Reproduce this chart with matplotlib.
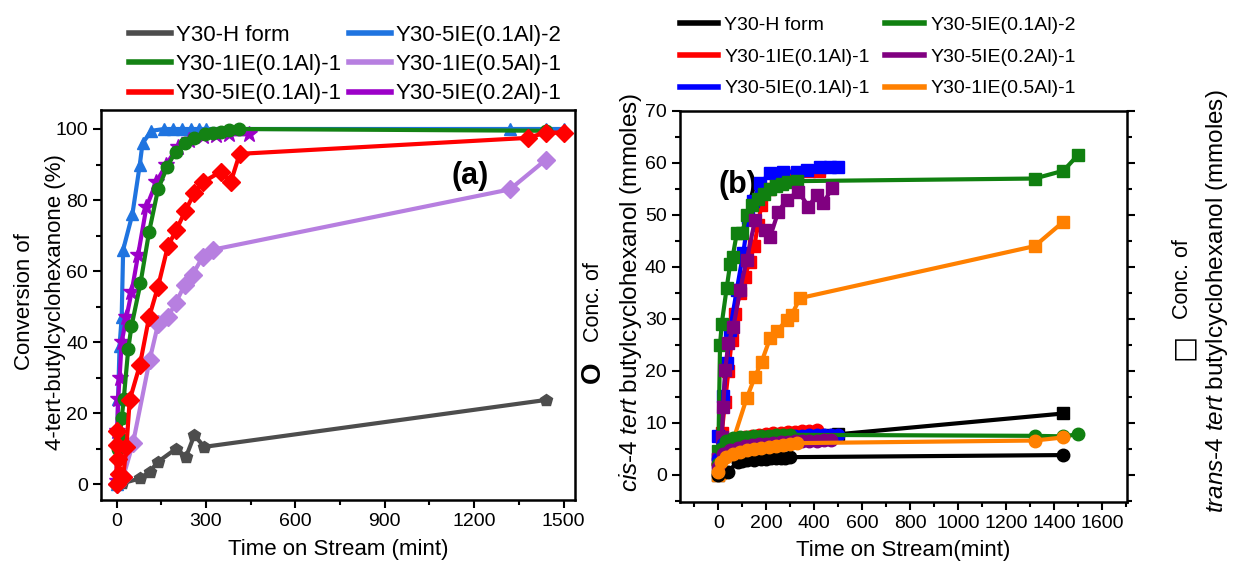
import matplotlib
matplotlib.use("Agg")
import matplotlib.pyplot as plt
from matplotlib.lines import Line2D
from matplotlib.ticker import MultipleLocator

plt.rcParams['font.family'] = ['Liberation Sans', 'DejaVu Sans']
plt.rcParams['mathtext.fontset'] = 'custom'
plt.rcParams['mathtext.rm'] = 'Liberation Sans'
plt.rcParams['mathtext.it'] = 'Liberation Sans:italic'

# ---------------- panel (a) data: conversion (%) ----------------
h_t = [0, 17, 78, 111, 139, 200, 233, 261, 294, 1440]
h_v = [0, 0.2, 1.6, 3.5, 6.3, 10, 7.7, 13.8, 10.5, 23.7]

ie1_t = [0, 5, 10, 17, 24, 39, 50, 80, 109, 139, 170, 198, 228, 261, 295, 322, 350, 378, 411, 1440]
ie1_v = [0, 10, 13, 18.5, 24, 38, 44.5, 56.5, 71, 83, 89.4, 93.6, 96, 97.4, 98.6, 99, 99.2, 99.7, 100, 99.5]

ie5_t = [0, 1, 3, 5, 8, 22, 33, 44, 78, 109, 139, 172, 200, 231, 261, 289, 350, 383, 413, 1380, 1440, 1500]
ie5_v = [0, 15, 11, 7, 3, 2, 10.5, 23.7, 33.5, 47, 55.6, 67, 71.5, 77, 82, 85, 88, 85, 93, 97.5, 99, 99]

ie5b_t = [0, 5, 10, 17, 22, 53, 78, 87, 117, 160, 190, 220, 250, 275, 300, 1320, 1440, 1500]
ie5b_v = [0, 24, 39, 47, 66, 76, 90, 96, 99.5, 100, 100, 100, 100, 100, 100, 100, 100, 100]

ie1h_t = [0, 22, 55, 111, 139, 172, 198, 228, 255, 289, 322, 1320, 1440]
ie1h_v = [0, 2, 11.5, 35, 45, 47, 51, 56, 59, 64, 66, 83, 91.3]

ie5m_t = [0, 2, 5, 10, 17, 33, 50, 72, 100, 133, 167, 205, 244, 289, 333, 378, 444]
ie5m_v = [1, 15, 24, 30, 40, 47, 54, 64.5, 78, 85, 90, 95, 97, 98, 98.3, 98.5, 98.5]

labels_a = ["Y30-H form", "Y30-1IE(0.1Al)-1", "Y30-5IE(0.1Al)-1",
            "Y30-5IE(0.1Al)-2", "Y30-1IE(0.5Al)-1", "Y30-5IE(0.2Al)-1"]
colors_a = ["#4d4d4d", "#148214", "#ff0000", "#1f74e0", "#b77fe0", "#9c00c8"]
markers_a = ["p", "o", "D", "^", "D", "*"]

# ---------------- panel (b) data: concentrations (mmoles) ----------------
# trans (squares)
bh_sq_t = [0, 30, 60, 100, 150, 200, 250, 300, 350, 400, 450, 500, 1440]
bh_sq_v = [0, 4, 5, 6, 6.5, 7, 7.2, 7.4, 7.5, 7.6, 7.7, 7.8, 11.8]
b1_sq_t = [0, 14, 28, 42, 56, 70, 90, 110, 130, 150, 165, 180, 210, 240, 280, 330, 380, 420]
b1_sq_v = [3, 8, 14, 20, 26, 31, 35, 38, 41, 44, 48, 52, 55, 56.5, 57.5, 58, 58.5, 58.5]
b5_sq_t = [0, 21, 35, 49, 77, 104, 125, 146, 174, 216, 271, 327, 369, 424, 466, 500]
b5_sq_v = [7.4, 15.1, 21.5, 27.9, 35.6, 42.7, 49.4, 52.6, 56.1, 58, 58.3, 58.3, 58.7, 59.3, 59.3, 59.3]
b5b_sq_t = [0, 7, 14, 35, 49, 60, 77, 98, 120, 140, 167, 190, 216, 240, 265, 290, 327, 1320, 1440, 1500]
b5b_sq_v = [4.5, 25, 29, 36, 40.5, 42, 46.5, 46.5, 50, 52, 53, 54, 55, 55.5, 56, 56.3, 56.5, 57, 58.5, 61.5]
b5m_sq_t = [0, 14, 21, 28, 42, 63, 91, 118, 153, 195, 216, 250, 285, 334, 376, 410, 438, 473]
b5m_sq_v = [3, 7.3, 13.1, 20.1, 25.3, 28.5, 35.6, 41.3, 49, 47.1, 45.8, 50.6, 52.9, 54.5, 51.6, 53.8, 52.2, 55.1]
b1h_sq_t = [0, 7, 56, 118, 153, 181, 216, 244, 285, 306, 341, 1320, 1440]
b1h_sq_v = [0, 0.3, 5.8, 14.7, 18.9, 21.8, 26.3, 27.6, 29.8, 30.8, 34, 44, 48.7]

# cis (circles)
bh_ci_t = [0, 42, 80, 100, 120, 150, 180, 200, 220, 240, 260, 280, 300, 1440]
bh_ci_v = [0, 0.6, 2.5, 2.7, 2.8, 2.9, 3, 3.1, 3.2, 3.2, 3.3, 3.3, 3.4, 3.8]
b1_ci_t = [0, 20, 50, 80, 110, 140, 170, 200, 230, 260, 290, 320, 350, 380, 410]
b1_ci_v = [2, 5.5, 6.5, 7, 7.3, 7.5, 7.7, 7.9, 8, 8.1, 8.2, 8.3, 8.4, 8.5, 8.6]
b5_ci_t = [0, 20, 50, 80, 110, 140, 170, 200, 230, 260, 290, 320, 350, 380, 410, 440, 470, 500]
b5_ci_v = [3, 6, 6.5, 6.8, 7, 7, 7.1, 7.2, 7.3, 7.3, 7.4, 7.4, 7.5, 7.6, 7.7, 7.7, 7.7, 7.7]
b5b_ci_t = [0, 10, 30, 60, 90, 120, 150, 180, 210, 240, 270, 300, 1320, 1440, 1500]
b5b_ci_v = [2, 5, 6.5, 7, 7.2, 7.3, 7.4, 7.5, 7.5, 7.6, 7.6, 7.7, 7.5, 7.4, 7.8]
b5m_ci_t = [0, 20, 50, 80, 110, 140, 170, 200, 230, 260, 290, 320, 350, 380, 410, 440, 470]
b5m_ci_v = [1.5, 4, 4.8, 5.2, 5.5, 5.7, 5.9, 6.0, 6.2, 6.3, 6.4, 6.5, 6.5, 6.6, 6.6, 6.7, 6.7]
b1h_ci_t = [0, 10, 30, 60, 90, 120, 150, 180, 210, 240, 270, 300, 330, 1320, 1440]
b1h_ci_v = [0.5, 2.5, 3.5, 4, 4.4, 4.8, 5, 5.2, 5.4, 5.6, 5.8, 5.9, 6.1, 6.6, 7.2]

labels_b = ["Y30-H form", "Y30-1IE(0.1Al)-1", "Y30-5IE(0.1Al)-1",
            "Y30-5IE(0.1Al)-2", "Y30-5IE(0.2Al)-1", "Y30-1IE(0.5Al)-1"]
colors_b = ["#000000", "#ff0000", "#0000ff", "#108010", "#800080", "#ff8000"]

fig = plt.figure(figsize=(12.33, 5.69), dpi=100)

# ================= (a) =================
ax = fig.add_axes([0.082, 0.121, 0.384, 0.686])
data_a = {0: (h_t, h_v), 1: (ie1_t, ie1_v), 2: (ie5_t, ie5_v),
          3: (ie5b_t, ie5b_v), 4: (ie1h_t, ie1h_v), 5: (ie5m_t, ie5m_v)}
draw_order = [0, 4, 3, 5, 1, 2]
for k, i in enumerate(draw_order):
    t, v = data_a[i]
    ms = 12 if markers_a[i] == "*" else 9
    ax.plot(t, v, color=colors_a[i], marker=markers_a[i], ms=ms, lw=3,
            zorder=3 + k)

ax.set_xlim(-52, 1537)
ax.set_ylim(-4.5, 105.4)
ax.xaxis.set_major_locator(MultipleLocator(300))
ax.xaxis.set_minor_locator(MultipleLocator(150))
ax.yaxis.set_major_locator(MultipleLocator(20))
ax.yaxis.set_minor_locator(MultipleLocator(10))
ax.tick_params(which="major", length=6, width=1.5, labelsize=14)
ax.tick_params(which="minor", length=3.5, width=1.5)
for s in ax.spines.values():
    s.set_linewidth(1.8)
ax.set_xlabel("Time on Stream (mint)", fontsize=16, labelpad=6)
ax.text(0.78, 0.83, "(a)", transform=ax.transAxes, fontsize=22,
        fontweight="bold", ha="center", va="center")

# y label of (a), two lines
fig.text(0.02, 0.47, "Conversion of", rotation=90, fontsize=16,
         ha="center", va="center")
fig.text(0.045, 0.47, "4-tert-butylcyclohexanone (%)", rotation=90,
         fontsize=16, ha="center", va="center")

handles_a = [Line2D([], [], color=colors_a[i], lw=4) for i in range(6)]
ax.legend(handles_a, labels_a, ncol=2, frameon=False, loc="lower left",
          bbox_to_anchor=(0.03, 0.98), fontsize=16, handlelength=1.9,
          handletextpad=0.22, columnspacing=0.3, labelspacing=0.37,
          borderaxespad=0.2)

# ================= (b) =================
bx = fig.add_axes([0.5515, 0.118, 0.3625, 0.687])
sq = [(bh_sq_t, bh_sq_v), (b1_sq_t, b1_sq_v), (b5_sq_t, b5_sq_v),
      (b5b_sq_t, b5b_sq_v), (b5m_sq_t, b5m_sq_v), (b1h_sq_t, b1h_sq_v)]
ci = [(bh_ci_t, bh_ci_v), (b1_ci_t, b1_ci_v), (b5_ci_t, b5_ci_v),
      (b5b_ci_t, b5b_ci_v), (b5m_ci_t, b5m_ci_v), (b1h_ci_t, b1h_ci_v)]
for i in range(6):
    t, v = sq[i]
    bx.plot(t, v, color=colors_b[i], marker="s", ms=9, lw=3, zorder=3 + i)
for i in range(6):
    t, v = ci[i]
    bx.plot(t, v, color=colors_b[i], marker="o", ms=9, lw=3, zorder=10 + i)

bx.set_xlim(-160, 1705)
bx.set_ylim(-5.2, 70)
bx.xaxis.set_major_locator(MultipleLocator(200))
bx.xaxis.set_minor_locator(MultipleLocator(100))
bx.yaxis.set_major_locator(MultipleLocator(10))
bx.yaxis.set_minor_locator(MultipleLocator(5))
bx.tick_params(which="major", length=6, width=1.5, labelsize=14, right=True)
bx.tick_params(which="minor", length=3.5, width=1.5, right=True)
for s in bx.spines.values():
    s.set_linewidth(1.8)
bx.set_xlabel("Time on Stream(mint)", fontsize=16, labelpad=6)
bx.text(0.13, 0.81, "(b)", transform=bx.transAxes, fontsize=22,
        fontweight="bold", ha="center", va="center")

handles_b = [Line2D([], [], color=colors_b[i], lw=4) for i in range(6)]
bx.legend(handles_b, labels_b, ncol=2, frameon=False, loc="lower left",
          bbox_to_anchor=(-0.027, 1.005), fontsize=14, handlelength=2.0,
          handletextpad=0.3, columnspacing=0.8, labelspacing=0.72,
          borderaxespad=0.2)

# y labels of (b): symbol + "Conc. of" on the first line
fig.text(0.481, 0.345, "O", rotation=90, fontsize=20, fontweight="bold",
         ha="center", va="center")
fig.text(0.481, 0.47, "Conc. of", rotation=90, fontsize=15.5,
         ha="center", va="center")
fig.text(0.511, 0.487,
         r"$\it{cis}$-4 $\it{tert}$ butylcyclohexanol (mmoles)",
         rotation=90, fontsize=17.5, ha="center", va="center")
fig.text(0.959, 0.39, "\u25A1", rotation=90, fontsize=20, fontweight="bold",
         family="DejaVu Sans", ha="center", va="center")
fig.text(0.959, 0.51, "Conc. of", rotation=90, fontsize=15.5,
         ha="center", va="center")
fig.text(0.987, 0.47,
         r"$\it{trans}$-4 $\it{tert}$ butylcyclohexanol (mmoles)",
         rotation=90, fontsize=17.5, ha="center", va="center")

fig.savefig("out.png", dpi=100)
